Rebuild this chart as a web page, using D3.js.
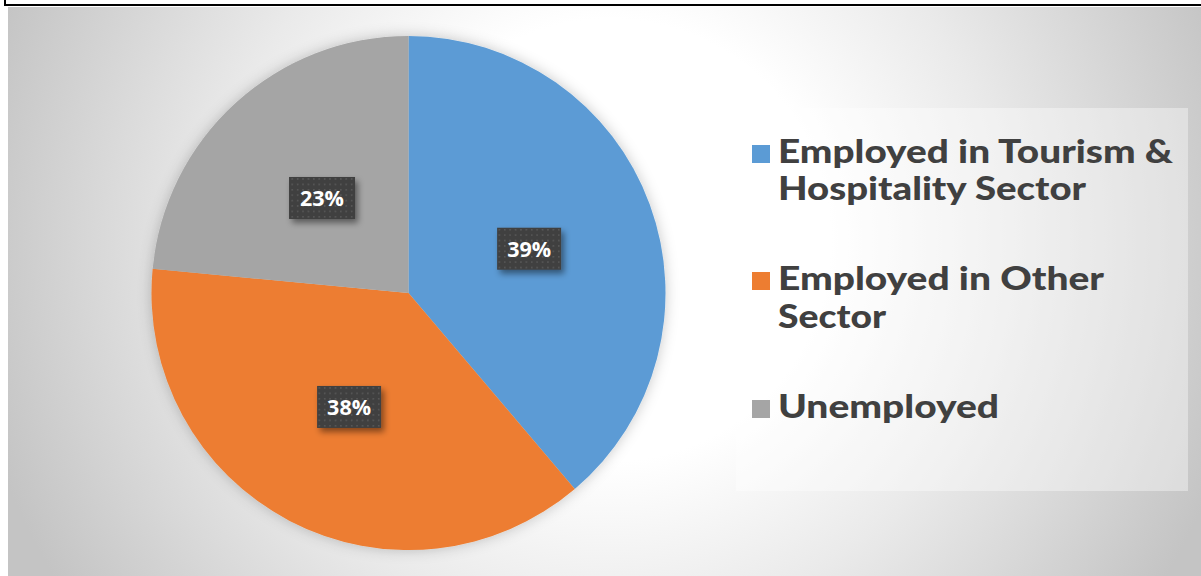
<!DOCTYPE html>
<html>
<head>
<meta charset="utf-8">
<script src="https://cdn.jsdelivr.net/npm/d3@7"></script>
<style>
html,body{margin:0;padding:0;background:#fff;overflow:hidden;}
svg{display:block;}
</style>
</head>
<body>
<svg id="chart" width="1201" height="576"></svg>
<script>
const categories = ["Employed in Tourism & Hospitality Sector", "Employed in Other Sector", "Unemployed"];
const values = [38.8, 37.7, 23.5];
const valueLabels = ["39%", "38%", "23%"];
const legendLines = [["Employed in Tourism &", "Hospitality Sector"], ["Employed in Other", "Sector"], ["Unemployed"]];
const legendWidths = [[395, 308], [326, 108], [221]];
const colors = ["#5B9BD5", "#ED7D31", "#A5A5A5"];

const svg = d3.select("#chart");
const defs = svg.append("defs");

const rg = defs.append("radialGradient").attr("id", "bg")
  .attr("gradientUnits", "userSpaceOnUse")
  .attr("cx", 610).attr("cy", 240).attr("r", 650);
rg.append("stop").attr("offset", "0").attr("stop-color", "#ffffff");
rg.append("stop").attr("offset", "0.34").attr("stop-color", "#ffffff");
rg.append("stop").attr("offset", "0.6").attr("stop-color", "#eaeaea");
rg.append("stop").attr("offset", "0.77").attr("stop-color", "#dadada");
rg.append("stop").attr("offset", "1").attr("stop-color", "#c4c4c4");

const pat = defs.append("pattern").attr("id", "dots")
  .attr("patternUnits", "userSpaceOnUse").attr("width", 5.4).attr("height", 5.4);
pat.append("rect").attr("width", 5.4).attr("height", 5.4).attr("fill", "#404040");
pat.append("rect").attr("x", 1.8).attr("y", 1.8).attr("width", 1.6).attr("height", 1.6).attr("fill", "#585858");

const fs = defs.append("filter").attr("id", "boxShadow").attr("x", "-30%").attr("y", "-30%").attr("width", "160%").attr("height", "160%");
fs.append("feDropShadow").attr("dx", 3).attr("dy", 4).attr("stdDeviation", 3).attr("flood-color", "#000").attr("flood-opacity", 0.45);

const fp = defs.append("filter").attr("id", "pieShadow").attr("x", "-20%").attr("y", "-20%").attr("width", "140%").attr("height", "140%");
fp.append("feDropShadow").attr("dx", 0).attr("dy", 0).attr("stdDeviation", 7).attr("flood-color", "#000").attr("flood-opacity", 0.22);

// background
svg.append("rect").attr("x", 8).attr("y", 7).attr("width", 1193).attr("height", 569).attr("fill", "url(#bg)");
// border corner (top line and short left stub)
svg.append("line").attr("x1", 4).attr("x2", 1201).attr("y1", 5).attr("y2", 5).attr("stroke", "#000").attr("stroke-width", 2);
svg.append("line").attr("x1", 5).attr("x2", 5).attr("y1", 0).attr("y2", 6).attr("stroke", "#000").attr("stroke-width", 2);

// pie
const cx = 408.5, cy = 293, R = 257;
const pie = d3.pie().sort(null).value(d => d)(values);
const arc = d3.arc().innerRadius(0).outerRadius(R);
const labelArc = d3.arc().innerRadius(0).outerRadius(R);

const g = svg.append("g").attr("transform", `translate(${cx},${cy})`);
const slices = g.append("g").attr("filter", "url(#pieShadow)");
slices.selectAll("path").data(pie).join("path")
  .attr("d", arc)
  .attr("fill", (d, i) => colors[i]);

const boxW = [64, 64, 66], boxH = 42;
const lbl = g.selectAll("g.lbl").data(pie).join("g").attr("class", "lbl")
  .attr("transform", d => { const c = labelArc.centroid(d); return `translate(${c[0]},${c[1]})`; });
lbl.append("rect")
  .attr("x", (d, i) => -boxW[i] / 2).attr("y", -boxH / 2)
  .attr("width", (d, i) => boxW[i]).attr("height", boxH)
  .attr("fill", "url(#dots)").attr("filter", "url(#boxShadow)");
lbl.append("text")
  .attr("text-anchor", "middle").attr("y", 8.5)
  .attr("fill", "#fff")
  .attr("font-family", "'Open Sans', sans-serif").attr("font-weight", 700).attr("font-size", 21.5)
  .text((d, i) => valueLabels[i]);

// legend
svg.append("rect").attr("x", 736).attr("y", 108).attr("width", 452).attr("height", 383)
  .attr("fill", "#ffffff").attr("fill-opacity", 0.38);

const baselines = [[163, 200], [290, 328], [418]];
const lg = svg.append("g");
categories.forEach((c, i) => {
  const b = baselines[i][0];
  lg.append("rect").attr("x", 752).attr("y", b - 18).attr("width", 18).attr("height", 18).attr("fill", colors[i]);
  legendLines[i].forEach((line, j) => {
    lg.append("text")
      .attr("x", 778).attr("y", baselines[i][j])
      .attr("fill", "#404040")
      .attr("font-family", "Lato, 'DejaVu Sans', sans-serif").attr("font-weight", 900).attr("font-size", 33)
      .attr("textLength", legendWidths[i][j]).attr("lengthAdjust", "spacingAndGlyphs")
      .text(line);
  });
});
</script>
</body>
</html>
